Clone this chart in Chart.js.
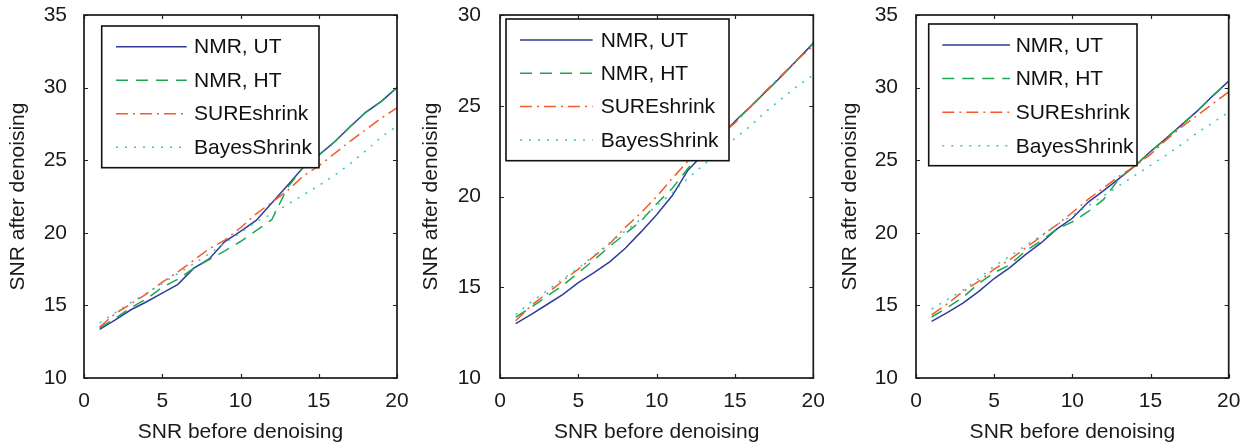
<!DOCTYPE html>
<html><head><meta charset="utf-8">
<script src="https://cdn.jsdelivr.net/npm/chart.js@4.4.0/dist/chart.umd.min.js"></script>
<style>
html,body{margin:0;padding:0;background:#fff;width:1253px;height:447px;overflow:hidden}
.p{position:absolute;top:0;height:447px}
canvas{display:block}
</style></head><body>
<div class="p" style="left:0;width:418px"><canvas id="c1" width="418" height="447"></canvas></div>
<div class="p" style="left:418px;width:418px"><canvas id="c2" width="418" height="447"></canvas></div>
<div class="p" style="left:836px;width:417px"><canvas id="c3" width="417" height="447"></canvas></div>
<script>
// ---- data ----
const snrIn = [1,2,3,4,5,6,7,8,9,10,11,12,13,14,15,16,17,18,19,20];
const seriesNames = ['NMR, UT','NMR, HT','SUREshrink','BayesShrink'];
const xTicks = [0,5,10,15,20];
const yTicksA = [10,15,20,25,30,35];
const yTicksB = [10,15,20,25,30];

const p1UT    = [13.35,14.0,14.7,15.25,15.85,16.45,17.55,18.2,19.4,20.1,20.85,22.05,23.25,24.5,25.35,26.25,27.3,28.3,29.05,30.0];
const p1HT    = [13.45,14.1,14.85,15.45,16.25,16.8,17.55,18.15,18.75,19.4,20.15,20.9,23.1,24.5,25.35,26.25,27.3,28.3,29.05,30.0];
const p1SURE  = [13.5,14.45,15.1,15.8,16.6,17.3,18.1,18.9,19.5,20.35,21.3,22.1,22.9,23.9,24.6,25.45,26.3,27.1,27.9,28.6];
const p1Bayes = [13.8,14.5,15.2,15.85,16.5,17.2,17.85,18.55,19.3,20.0,20.75,21.3,21.95,22.6,23.25,23.95,24.75,25.65,26.6,27.35];

const p2UT    = [13.0,13.5,14.05,14.6,15.25,15.8,16.4,17.15,18.05,19.0,20.05,21.45,22.35,23.25,24.15,24.95,25.8,26.65,27.55,28.45];
const p2HT    = [13.35,13.9,14.5,15.1,15.8,16.5,17.25,17.95,18.65,19.6,20.45,21.55,22.4,23.25,24.15,24.95,25.8,26.65,27.55,28.45];
const p2SURE  = [13.15,14.0,14.65,15.35,16.0,16.7,17.4,18.3,19.1,20.0,21.0,21.95,22.65,23.35,24.05,24.95,25.85,26.7,27.55,28.3];
const p2Bayes = [13.5,14.2,14.8,15.45,16.05,16.75,17.45,18.1,18.75,19.5,20.2,21.0,21.75,22.45,23.2,23.9,24.7,25.4,26.1,26.7];

const p3UT    = [13.9,14.5,15.15,15.95,16.85,17.6,18.5,19.3,20.25,21.0,22.1,22.9,23.75,24.6,25.6,26.5,27.45,28.4,29.45,30.45];
const p3HT    = [14.2,14.85,15.55,16.5,17.25,17.8,18.75,19.45,20.25,20.75,21.45,22.3,23.75,24.6,25.6,26.5,27.45,28.4,29.45,30.4];
const p3SURE  = [14.35,15.1,15.95,16.65,17.5,18.15,18.95,19.75,20.55,21.4,22.3,23.1,23.9,24.6,25.4,26.4,27.3,28.1,28.9,29.7];
const p3Bayes = [14.75,15.4,16.05,16.85,17.7,18.4,19.1,19.8,20.55,21.2,21.85,22.55,23.25,23.95,24.65,25.35,26.1,26.9,27.6,28.3];

// ---- styles ----
const FONT = '"Liberation Sans", Arial, Helvetica, sans-serif';
const styles = [
  {color:'#2e3d99', dash:[], order:3},
  {color:'#1fa653', dash:[12,8], order:2},
  {color:'#f25c2a', dash:[12,5,2,5], order:1},
  {color:'#38c4c4', dash:[2,7], order:0}
];

const framePlugin = {
  id:'frame',
  afterDatasetsDraw(chart, args, opts){
    const ctx = chart.ctx, a = chart.chartArea, xs = chart.scales.x, ys = chart.scales.y;
    ctx.save();
    ctx.strokeStyle = '#222'; ctx.lineWidth = 1.2; ctx.setLineDash([]);
    ctx.beginPath();
    xs.ticks.forEach(t=>{const px = Math.round(xs.getPixelForValue(t.value))+0.5;
      ctx.moveTo(px,a.bottom); ctx.lineTo(px,a.bottom-4); ctx.moveTo(px,a.top); ctx.lineTo(px,a.top+4);});
    ys.ticks.forEach(t=>{const py = Math.round(ys.getPixelForValue(t.value))+0.5;
      ctx.moveTo(a.left,py); ctx.lineTo(a.left+4,py); ctx.moveTo(a.right,py); ctx.lineTo(a.right-4,py);});
    ctx.stroke();
    // legend box
    const L = opts.box;
    const bx = a.left + L.dx, by = a.top + L.dy;
    ctx.fillStyle = '#fff'; ctx.fillRect(bx, by, L.w, L.h);
    ctx.lineWidth = 1.6; ctx.strokeStyle = '#111'; ctx.strokeRect(bx, by, L.w, L.h);
    ctx.font = '21px ' + FONT; ctx.textBaseline = 'middle'; ctx.textAlign = 'left';
    chart.data.datasets.forEach((ds,i)=>{
      const yy = by + L.row0 + i*L.rowH;
      ctx.save();
      ctx.strokeStyle = ds.borderColor; ctx.lineWidth = ds.borderWidth; ctx.setLineDash(ds.borderDash||[]);
      ctx.beginPath(); ctx.moveTo(bx+L.sx, yy); ctx.lineTo(bx+L.sx+L.sw, yy); ctx.stroke();
      ctx.restore();
      ctx.fillStyle = '#111'; ctx.fillText(ds.label, bx+L.tx, yy+1);
    });
    // frame
    ctx.lineWidth = 1.7; ctx.strokeStyle = '#1a1a1a'; ctx.setLineDash([]);
    ctx.strokeRect(a.left, a.top, a.right-a.left, a.bottom-a.top);
    ctx.restore();
  }
};

function makeChart(id, series, yMax, yTicks, cfg){
  const datasets = series.map((arr,i)=>({
    label: seriesNames[i],
    data: snrIn.map((x,k)=>({x:x, y:arr[k]})),
    borderColor: styles[i].color,
    borderDash: styles[i].dash,
    borderWidth: 1.5,
    pointRadius: 0,
    tension: 0,
    fill: false,
    order: styles[i].order
  }));
  const tickFont = {family: FONT, size: 21};
  return new Chart(document.getElementById(id), {
    type: 'line',
    data: {datasets},
    plugins: [framePlugin],
    options: {
      responsive: false, animation: false, devicePixelRatio: 1,
      layout: {padding: {left:0, top:15, right:cfg.padRight, bottom:0}},
      plugins: {legend:{display:false}, tooltip:{enabled:false}, frame:{box:cfg.box}},
      scales: {
        x: {
          type:'linear', min:0, max:20,
          afterBuildTicks(s){ s.ticks = xTicks.map(v=>({value:v})); },
          ticks:{color:'#1a1a1a', font:tickFont, padding:11, maxRotation:0, autoSkip:false},
          grid:{display:false, drawTicks:false}, border:{display:false},
          title:{display:true, text:'SNR before denoising', color:'#1a1a1a', font:tickFont, padding:{top:0,bottom:2}},
          afterFit(s){ s.height = 69; s.paddingLeft = 0; s.paddingRight = 0; }
        },
        y: {
          type:'linear', min:10, max:yMax,
          afterBuildTicks(s){ s.ticks = yTicks.map(v=>({value:v})); },
          ticks:{color:'#1a1a1a', font:tickFont, padding:cfg.yPad, autoSkip:false},
          grid:{display:false, drawTicks:false}, border:{display:false},
          title:{display:true, text:'SNR after denoising', color:'#1a1a1a', font:tickFont, padding:{top:cfg.yTitlePad, bottom:0}},
          afterFit(s){ s.width = cfg.yWidth; s.paddingTop = 0; s.paddingBottom = 0; }
        }
      }
    }
  });
}

makeChart('c1', [p1UT,p1HT,p1SURE,p1Bayes], 35, yTicksA,
  {padRight:21, yWidth:84, yPad:17, yTitlePad:5.4,
   box:{dx:17.7, dy:11, w:217.3, h:141.7, sx:14.3, sw:70.7, tx:92.3, row0:20.7, rowH:33.5}});
makeChart('c2', [p2UT,p2HT,p2SURE,p2Bayes], 30, yTicksB,
  {padRight:22.7, yWidth:82, yPad:19, yTitlePad:1.1,
   box:{dx:6, dy:4, w:223, h:141.7, sx:14, sw:72.7, tx:94.7, row0:21, rowH:33.3}});
makeChart('c3', [p3UT,p3HT,p3SURE,p3Bayes], 35, yTicksA,
  {padRight:24.3, yWidth:80, yPad:18, yTitlePad:1.4,
   box:{dx:12.7, dy:9, w:208.3, h:141.7, sx:13.6, sw:67.7, tx:87, row0:21, rowH:33.6}});
</script>
</body></html>
